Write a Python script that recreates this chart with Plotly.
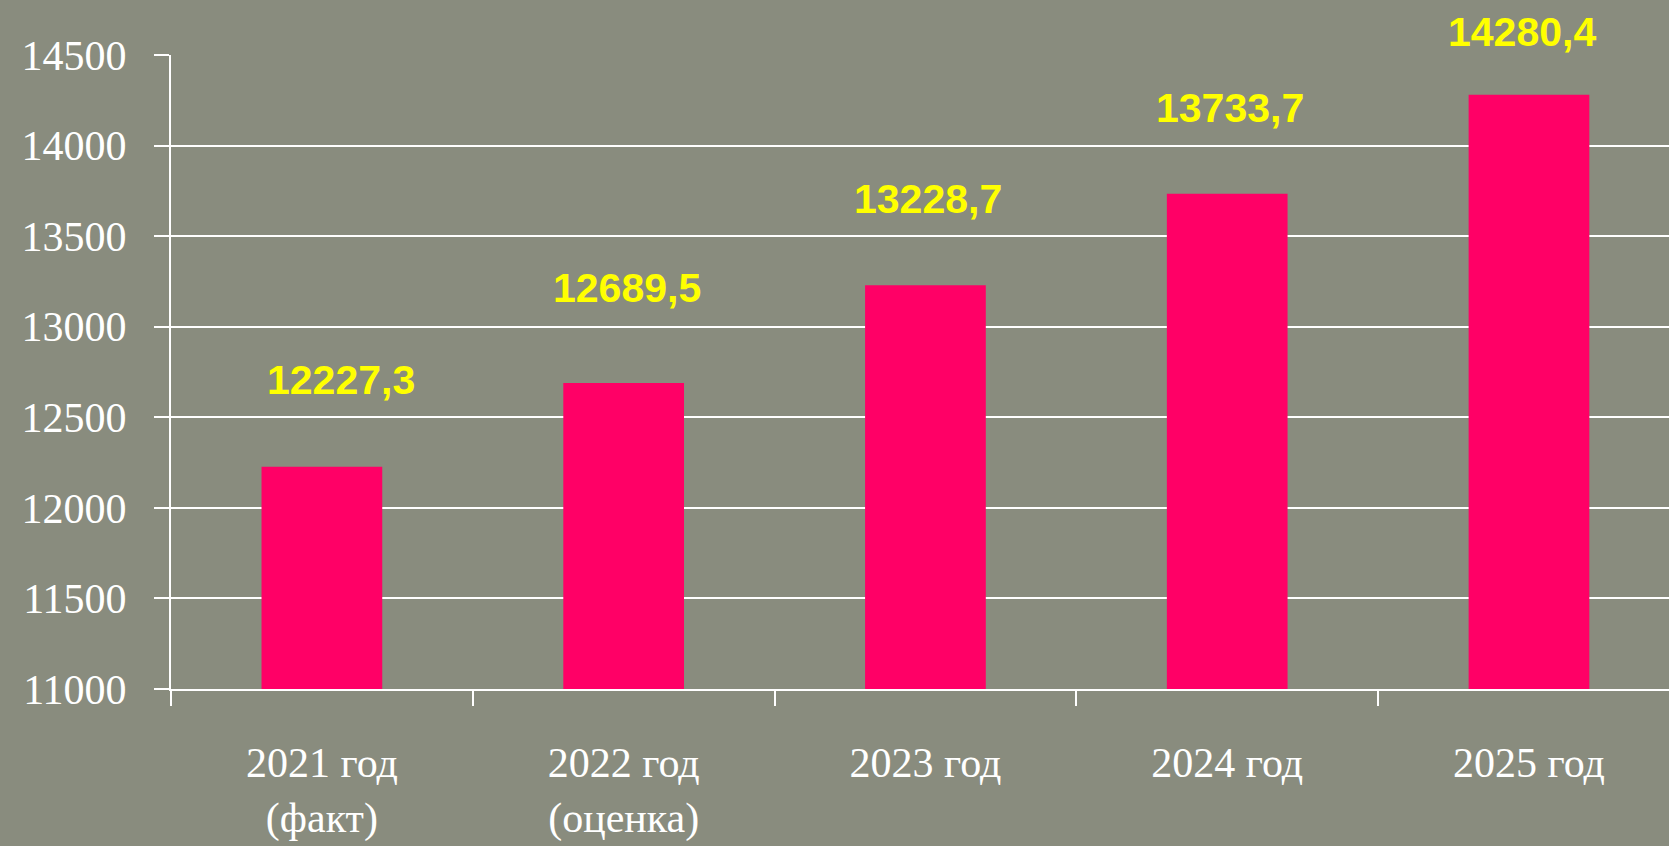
import plotly.graph_objects as go

categories = ["2021 год<br>(факт)", "2022 год<br>(оценка)", "2023 год", "2024 год", "2025 год"]
values = [12227.3, 12689.5, 13228.7, 13733.7, 14280.4]
tick_vals = [11000, 11500, 12000, 12500, 13000, 13500, 14000, 14500]
tick_text = ["11000", "11500", "12000", "12500", "13000", "13500", "14000", "14500"]

label_yshift = [62, 70, 61, 61, 38]
label_xshift = [19, 3, 3, 3, -7]

bg = "#898c7e"
serif = "Liberation Serif, DejaVu Serif, serif"

fig = go.Figure()
fig.add_trace(go.Bar(
    x=categories, y=values, width=0.40,
    marker=dict(color="#ff0066", line=dict(width=0)),
    hoverinfo="skip",
))

for c, v, ys, xs in zip(categories, values, label_yshift, label_xshift):
    fig.add_annotation(
        x=c, y=v, text=f"{v:.1f}".replace(".", ","), showarrow=False,
        yanchor="bottom", xanchor="center", yshift=ys, xshift=xs,
        font=dict(family="Liberation Sans, Arial, sans-serif", size=41, color="#ffff00", weight="bold"),
    )

fig.update_layout(
    width=1669, height=846,
    margin=dict(l=171, r=0, t=55, b=157),
    paper_bgcolor=bg, plot_bgcolor=bg,
    showlegend=False,
    bargap=0.6,
)
fig.update_xaxes(
    type="category", range=[-0.5, 4.464],
    showline=True, linecolor="white", linewidth=2,
    ticks="outside", tickson="boundaries", ticklen=15, tickwidth=2, tickcolor="white",
    showgrid=False, ticklabelstandoff=36,
    tickfont=dict(family=serif, size=42, color="white"),
)
fig.update_yaxes(
    range=[11000, 14500], tickvals=tick_vals, ticktext=tick_text,
    showline=True, linecolor="white", linewidth=2,
    ticks="outside", ticklen=15, tickwidth=2, tickcolor="white",
    showgrid=True, gridcolor="white", gridwidth=2,
    zeroline=False, ticklabelstandoff=19,
    tickfont=dict(family=serif, size=42, color="white"),
)

fig.write_html(
    "out.html",
    config={"displayModeBar": False},
    post_script="document.body.style.margin='0';document.body.style.overflow='hidden';",
)
